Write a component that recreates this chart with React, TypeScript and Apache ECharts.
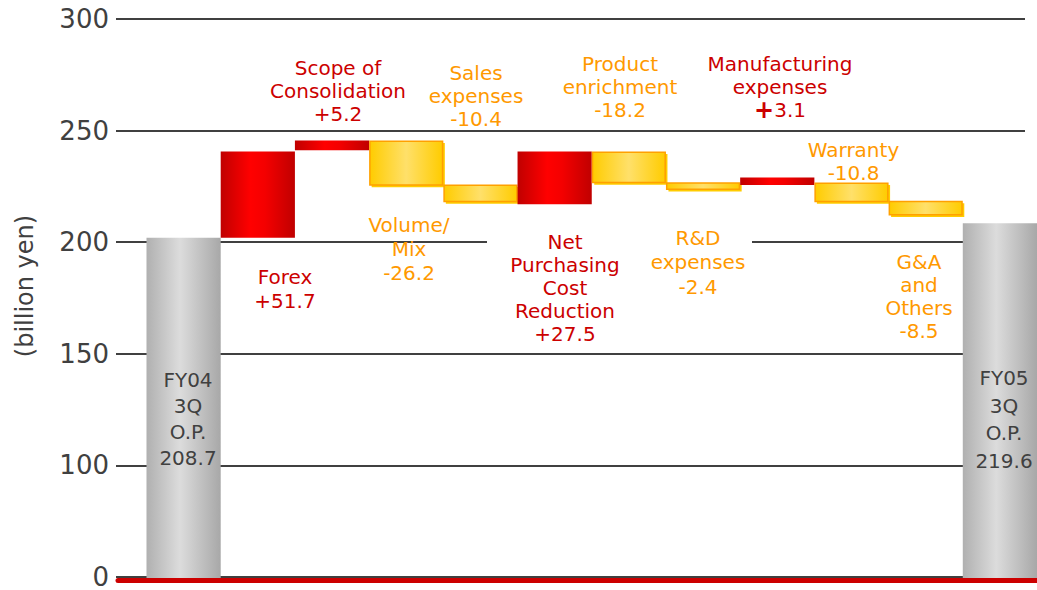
import React, { useEffect, useRef } from 'react';
import * as echarts from 'echarts';

// ---- data ----
const categories = [
  'FY04 3Q O.P.', 'Forex', 'Scope of Consolidation', 'Volume/Mix', 'Sales expenses',
  'Net Purchasing Cost Reduction', 'Product enrichment', 'R&D expenses',
  'Manufacturing expenses', 'Warranty', 'G&A and Others', 'FY05 3Q O.P.',
];
// drawn extents of each bar (billion yen, as drawn on the axis)
const barLow = [0, 202.5, 241.5, 225.7, 218.3, 217.4, 226.8, 223.8, 226.0, 218.3, 212.4, 0];
const barHigh = [202.5, 241.0, 245.9, 245.9, 226.3, 241.0, 241.0, 227.2, 229.4, 227.1, 219.0, 209.0];
const kinds = ['total', 'up', 'up', 'down', 'down', 'up', 'down', 'down', 'up', 'down', 'down', 'total'];
const labelNames = [
  'FY04\n3Q\nO.P.', 'Forex', 'Scope of\nConsolidation', 'Volume/\nMix', 'Sales\nexpenses',
  'Net\nPurchasing\nCost\nReduction', 'Product\nenrichment', 'R&D\nexpenses',
  'Manufacturing\nexpenses', 'Warranty', 'G&A\nand\nOthers', 'FY05\n3Q\nO.P.',
];
const labelValues = ['208.7', '+51.7', '+5.2', '-26.2', '-10.4', '+27.5', '-18.2', '-2.4', '+3.1', '-10.8', '-8.5', '219.6'];
const yTickValues = [0, 100, 150, 200, 250, 300];
const yAxisTitle = '(billion yen)';

// ---- layout (pixels) ----
const labelLayout: [number, number, number][] = [
  [188, 380, 26], [285, 277, 23.5], [338, 68, 23], [409, 225, 24], [476, 73, 23],
  [565, 242, 23], [620, 63.5, 23.3], [698, 238, 24.3], [780, 63.5, 23.3],
  [853.5, 149.5, 23.5], [919, 262, 23], [1004, 378, 27.7],
];
const FONT = 'DejaVu Sans';
const kindColor: Record<string, string> = { total: '#404040', up: '#cc0000', down: '#ff9900' };

// broken axis: 0..100 occupies one band, then 50 per band
const toAxis = (v: number) => (v <= 100 ? v / 100 : 1 + (v - 100) / 50);

export default function App() {
  const ref = useRef<HTMLDivElement>(null);
  useEffect(() => {
    if (!ref.current) return;
    const chart = echarts.init(ref.current, null, { renderer: 'svg' });

    const grayGrad = () => new echarts.graphic.LinearGradient(0, 0, 1, 0, [
      { offset: 0, color: '#b0b0b0' }, { offset: 0.45, color: '#dcdcdc' }, { offset: 1, color: '#a8a8a8' },
    ]);
    const redGrad = () => new echarts.graphic.LinearGradient(0, 0, 1, 0, [
      { offset: 0, color: '#c00000' }, { offset: 0.4, color: '#ff0000' }, { offset: 0.6, color: '#f40000' }, { offset: 1, color: '#c00000' },
    ]);
    const yellowGrad = () => new echarts.graphic.LinearGradient(0, 0, 1, 0, [
      { offset: 0, color: '#ffcc00' }, { offset: 0.5, color: '#ffe06a' }, { offset: 1, color: '#ffcc00' },
    ]);

    const barData = categories.map((c, i) => [i, toAxis(barLow[i]), toAxis(barHigh[i])]);

    const labelGraphics = labelNames.map((name, i) => {
      const [cx, cy, lh] = labelLayout[i];
      const color = kindColor[kinds[i]];
      const val = labelValues[i];
      const boldPlus = i === 8;
      const text = name + '\n' + (boldPlus ? '{b|+}' + val.slice(1) : val);
      return {
        type: 'text',
        x: cx,
        y: cy - lh / 2,
        z: 100,
        style: {
          text,
          fill: color,
          font: `20px "${FONT}"`,
          fontFamily: FONT,
          fontSize: 20,
          lineHeight: lh,
          align: 'center',
          verticalAlign: 'top',
          rich: boldPlus
            ? { b: { fontWeight: 'bold', fontSize: 24, fill: color, color, lineHeight: lh, fontFamily: FONT } }
            : undefined,
        },
      };
    });

    const option: any = {
      animation: false,
      backgroundColor: '#ffffff',
      grid: [
        { left: 116, right: 12, top: 19, height: 561 },
        { left: 146.5, width: 895, top: 19, height: 561 },
        { left: 118, right: 0, top: 19, height: 561 },
      ],
      xAxis: [
        { gridIndex: 0, type: 'value', min: 0, max: 1, show: false },
        { gridIndex: 1, type: 'category', data: categories, show: false },
        {
          gridIndex: 2, type: 'value', min: 0, max: 1, z: 10, offset: 2,
          axisLine: { show: true, lineStyle: { color: '#cc0000', width: 5 } },
          axisTick: { show: false }, axisLabel: { show: false }, splitLine: { show: false },
        },
      ],
      yAxis: [
        {
          gridIndex: 0, type: 'value', min: 0, max: 5, interval: 1,
          axisLine: { show: false }, axisTick: { show: false },
          axisLabel: {
            formatter: (v: number) => String(yTickValues[Math.round(v)]),
            fontFamily: FONT, fontSize: 26, color: '#404040', margin: 7,
          },
          splitLine: { show: true, lineStyle: { color: '#404040', width: 2 } },
        },
        { gridIndex: 1, type: 'value', min: 0, max: 5, show: false },
        { gridIndex: 2, type: 'value', min: 0, max: 5, show: false },
      ],
      series: [
        {
          type: 'custom',
          xAxisIndex: 1,
          yAxisIndex: 1,
          encode: { x: 0, y: [1, 2] },
          data: barData,
          renderItem: (params: any, api: any) => {
            const i = api.value(0);
            const top = api.coord([i, api.value(2)]);
            const bot = api.coord([i, api.value(1)]);
            const w = api.size([1, 0])[0];
            const x = top[0] - w / 2;
            const y = top[1];
            const h = bot[1] - top[1];
            const kind = kinds[i];
            if (kind === 'total') {
              return { type: 'rect', shape: { x, y, width: w, height: h }, style: { fill: grayGrad() } };
            }
            if (kind === 'up') {
              return { type: 'rect', shape: { x, y, width: w, height: h }, style: { fill: redGrad() } };
            }
            return {
              type: 'group',
              children: [
                { type: 'rect', shape: { x: x + 2.5, y: y + 2.5, width: w - 1, height: h - 1 }, style: { fill: '#ffcc00' } },
                {
                  type: 'rect',
                  shape: { x: x + 0.75, y: y + 0.75, width: w - 1.5, height: h - 1.5 },
                  style: { fill: yellowGrad(), stroke: '#ffa000', lineWidth: 1.5 },
                },
              ],
            };
          },
        },
      ],
      graphic: [
        { type: 'rect', z: 1, shape: { x: 487, y: 239, width: 265, height: 8 }, style: { fill: '#ffffff' } },
        {
          type: 'text', x: 25, y: 286, rotation: Math.PI / 2, z: 100,
          style: {
            text: yAxisTitle, fill: '#404040', font: `24px "${FONT}"`, fontFamily: FONT, fontSize: 24,
            align: 'center', verticalAlign: 'middle',
          },
        },
        ...labelGraphics,
      ],
    };
    chart.setOption(option);
    return () => chart.dispose();
  }, []);
  return <div ref={ref} style={{ position: 'absolute', left: 0, top: 0, width: 1037, height: 590 }} />;
}
